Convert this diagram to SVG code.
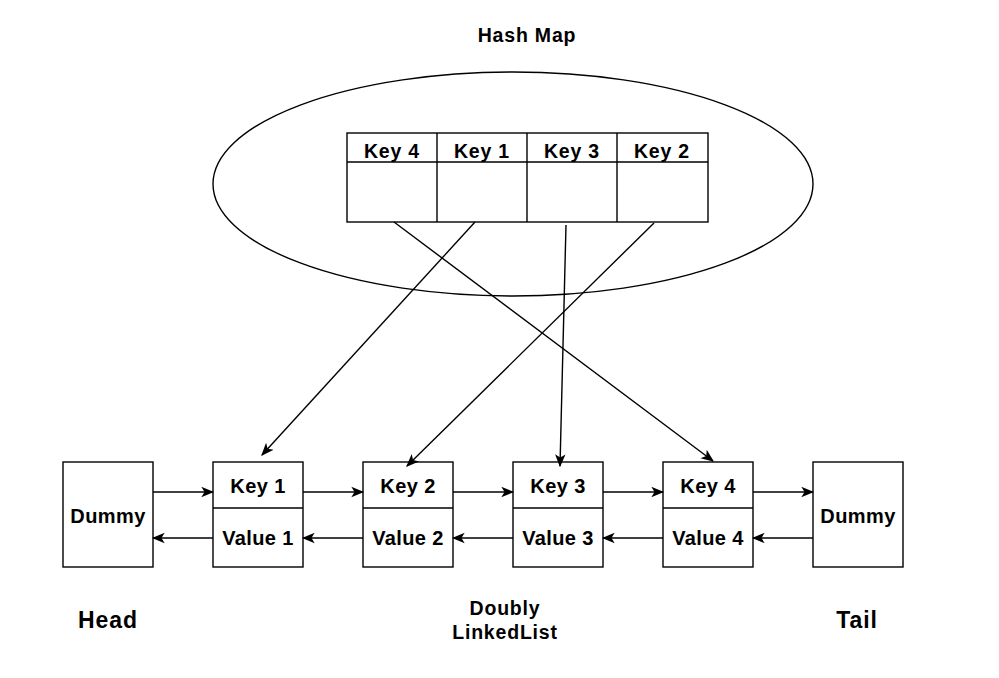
<svg xmlns="http://www.w3.org/2000/svg" width="999" height="678" viewBox="0 0 999 678">
<defs>
<style>
.b{fill:#fff;stroke:#000;stroke-width:1.4}
.t{font-family:"Liberation Sans",Arial,sans-serif;font-weight:bold;fill:#000;text-anchor:middle;dominant-baseline:central}
.n{font-size:20px;letter-spacing:0.4px}
.h{font-size:19.5px;letter-spacing:0.8px}
.l{font-size:23px;letter-spacing:0.9px}
.c{stroke:#000;stroke-width:1.4;fill:none;marker-end:url(#a)}
</style>
<marker id="a" viewBox="0 0 10 10" refX="9" refY="5" markerWidth="13" markerHeight="13" markerUnits="userSpaceOnUse" orient="auto">
<path d="M0,1 L10,5 L0,9 L2.5,5 Z" fill="#000"/>
</marker>
</defs>
<rect width="999" height="678" fill="#fff"/>
<text class="t h" x="527" y="35">Hash Map</text>
<g id="hashmap">
<ellipse class="b" cx="513" cy="184" rx="300" ry="112"/>
<rect class="b" x="347" y="133" width="361" height="89"/>
<line x1="347" y1="162" x2="708" y2="162" stroke="#000" stroke-width="1.4"/>
<line x1="437" y1="133" x2="437" y2="222" stroke="#000" stroke-width="1.4"/>
<line x1="527" y1="133" x2="527" y2="222" stroke="#000" stroke-width="1.4"/>
<line x1="617" y1="133" x2="617" y2="222" stroke="#000" stroke-width="1.4"/>
<text class="t h" x="392" y="151">Key 4</text>
<text class="t h" x="482" y="151">Key 1</text>
<text class="t h" x="572" y="151">Key 3</text>
<text class="t h" x="662" y="151">Key 2</text>
</g>
<g id="head">
<rect class="b" x="63" y="462" width="90" height="105"/>
<text class="t n" x="108" y="516">Dummy</text>
</g>
<g id="node1">
<rect class="b" x="213" y="462" width="90" height="105"/>
<line x1="213" y1="508" x2="303" y2="508" stroke="#000" stroke-width="1.4"/>
<text class="t n" x="258" y="486">Key 1</text>
<text class="t n" x="258" y="538">Value 1</text>
</g>
<g id="node2">
<rect class="b" x="363" y="462" width="90" height="105"/>
<line x1="363" y1="508" x2="453" y2="508" stroke="#000" stroke-width="1.4"/>
<text class="t n" x="408" y="486">Key 2</text>
<text class="t n" x="408" y="538">Value 2</text>
</g>
<g id="node3">
<rect class="b" x="513" y="462" width="90" height="105"/>
<line x1="513" y1="508" x2="603" y2="508" stroke="#000" stroke-width="1.4"/>
<text class="t n" x="558" y="486">Key 3</text>
<text class="t n" x="558" y="538">Value 3</text>
</g>
<g id="node4">
<rect class="b" x="663" y="462" width="90" height="105"/>
<line x1="663" y1="508" x2="753" y2="508" stroke="#000" stroke-width="1.4"/>
<text class="t n" x="708" y="486">Key 4</text>
<text class="t n" x="708" y="538">Value 4</text>
</g>
<g id="tail">
<rect class="b" x="813" y="462" width="90" height="105"/>
<text class="t n" x="858" y="516">Dummy</text>
</g>
<g id="connectors">
<line class="c" x1="153" y1="492" x2="213" y2="492"/>
<line class="c" x1="303" y1="492" x2="363" y2="492"/>
<line class="c" x1="453" y1="492" x2="513" y2="492"/>
<line class="c" x1="603" y1="492" x2="663" y2="492"/>
<line class="c" x1="753" y1="492" x2="813" y2="492"/>
<line class="c" x1="213" y1="538" x2="153" y2="538"/>
<line class="c" x1="363" y1="538" x2="303" y2="538"/>
<line class="c" x1="513" y1="538" x2="453" y2="538"/>
<line class="c" x1="663" y1="538" x2="603" y2="538"/>
<line class="c" x1="813" y1="538" x2="753" y2="538"/>
<line class="c" x1="394" y1="222" x2="713" y2="461"/>
<line class="c" x1="475" y1="222" x2="262" y2="455"/>
<line class="c" x1="566" y1="225" x2="560" y2="466"/>
<line class="c" x1="654" y1="223" x2="407" y2="466"/>
</g>
<text class="t l" x="108" y="620">Head</text>
<text class="t l" x="857" y="620">Tail</text>
<text class="t h" x="505" y="608">Doubly</text>
<text class="t h" x="505" y="632">LinkedList</text>
</svg>
